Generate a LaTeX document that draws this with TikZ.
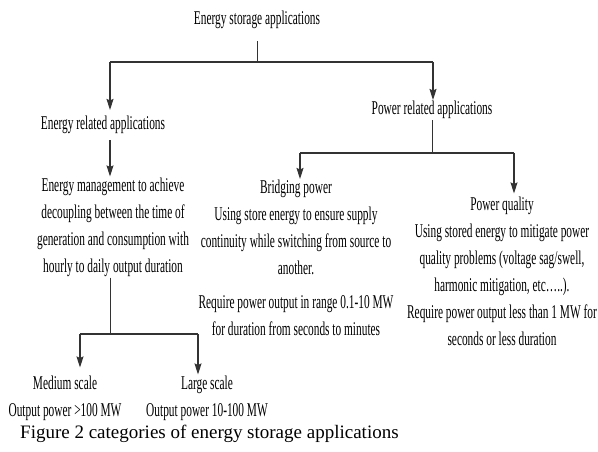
\documentclass[tikz,border=0pt]{standalone}
\usepackage{fontspec}
\setmainfont{Liberation Serif}
\newfontfamily\condfont[FakeStretch=0.583]{Liberation Serif}
\usetikzlibrary{arrows.meta}
\definecolor{ink}{HTML}{333333}
\begin{document}
\begin{tikzpicture}[x=1pt,y=-1pt,
  lbl/.style={font=\condfont\fontsize{19.5}{27}\selectfont, inner sep=1pt, text=black, align=center},
  arr/.style={-{Stealth[length=11pt,width=7pt,inset=1.5pt]}, line width=1.2pt, draw=ink},
  bar/.style={line width=1.8pt, draw=ink},
  stem/.style={line width=1pt, draw=ink}]
\useasboundingbox (0,0) rectangle (598,452);
\node[lbl] (root) at (257,20) {Energy storage applications};
\node[lbl] (era) at (103,125) {Energy related applications};
\node[lbl] (pra) at (432,110) {Power related applications};
\node[lbl] (em) at (113,227) {Energy management to achieve\\decoupling between the time of\\generation and consumption with\\hourly to daily output duration};
\node[lbl] (bp) at (296,258) {Bridging power\\Using store energy to ensure supply\\continuity while switching from source to\\another.\\[7pt]Require power output in range 0.1-10 MW\\for duration from seconds to minutes};
\node[lbl] (pq) at (502,271) {Power quality\\Using stored energy to mitigate power\\quality problems (voltage sag/swell,\\harmonic mitigation, etc\dots..).\\Require power output less than 1 MW for\\seconds or less duration};
\node[lbl] (ms) at (65,398) {Medium scale\\Output power >100 MW};
\node[lbl] (ls) at (207,398) {Large scale\\Output power 10-100 MW};
\node[font=\fontsize{19}{22}\selectfont, anchor=west, inner sep=0pt] (cap) at (20,434) {Figure 2 categories of energy storage applications};
\coordinate (jL) at (110,62);
\coordinate (jR) at (433,62);
\coordinate (j2L) at (300,153);
\coordinate (j2R) at (514,153);
\coordinate (j3L) at (80,334);
\coordinate (j3R) at (198,334);
\draw[stem, shorten <=11pt] (root.south) -- (root.south |- jL);
\draw[bar] (jL) -- (jR);
\draw[arr, shorten >=5pt] (jL) -- (jL |- era.north);
\draw[arr] (jR) -- (jR |- pra.north);
\draw[arr, shorten <=5pt] (era.south -| jL) -- (em.north -| jL);
\draw[stem] (pra.south) -- (pra.south |- j2L);
\draw[bar] (j2L) -- (j2R);
\draw[arr] (j2L) -- (j2L |- bp.north);
\draw[arr, shorten >=2pt] (j2R) -- (j2R |- pq.north);
\draw[stem] (em.south -| jL) -- (jL |- j3L);
\draw[bar] (j3L) -- (j3R);
\draw[arr, shorten >=7pt] (j3L) -- (j3L |- ms.north);
\draw[arr] (j3R) -- (j3R |- ls.north);
\end{tikzpicture}
\end{document}
